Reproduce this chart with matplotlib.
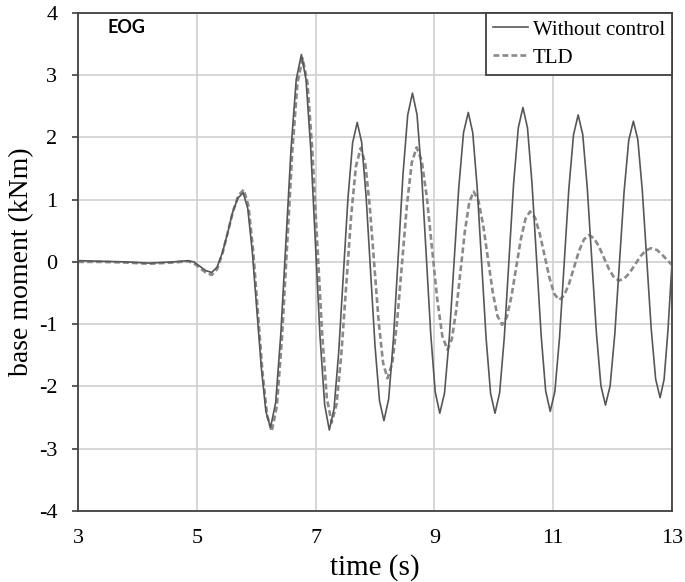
import matplotlib
matplotlib.use("Agg")
import matplotlib.pyplot as plt

plt.rcParams['font.family'] = ['Liberation Serif', 'DejaVu Serif']
plt.rcParams['axes.unicode_minus'] = False

# time (s) / base moment (kNm)
t_nc = [3.0, 3.4, 3.8, 4.2, 4.6, 4.85,
        4.95, 5.05, 5.15, 5.25,
        5.34, 5.43, 5.52, 5.60, 5.69, 5.78,
        5.857, 5.933, 6.01, 6.087, 6.163, 6.24,
        6.327, 6.413, 6.50, 6.587, 6.673, 6.76,
        6.838, 6.917, 6.995, 7.073, 7.152, 7.23,
        7.308, 7.387, 7.465, 7.543, 7.622, 7.70,
        7.775, 7.85, 7.925, 8.0, 8.075, 8.15,
        8.23, 8.31, 8.39, 8.47, 8.55, 8.63,
        8.707, 8.783, 8.86, 8.937, 9.013, 9.09,
        9.17, 9.25, 9.33, 9.41, 9.49, 9.57,
        9.645, 9.72, 9.795, 9.87, 9.945, 10.02,
        10.098, 10.177, 10.255, 10.333, 10.412, 10.49,
        10.567, 10.643, 10.72, 10.797, 10.873, 10.95,
        11.028, 11.107, 11.185, 11.263, 11.342, 11.42,
        11.497, 11.573, 11.65, 11.727, 11.803, 11.88,
        11.958, 12.037, 12.115, 12.193, 12.272, 12.35,
        12.425, 12.5, 12.575, 12.65, 12.725, 12.80,
        12.867, 12.933, 13.0]
m_nc = [0.02, 0.01, 0.0, -0.02, 0.0, 0.02,
        0.0, -0.07, -0.14, -0.17,
        -0.084, 0.15, 0.47, 0.79, 1.024, 1.11,
        0.857, 0.168, -0.775, -1.718, -2.407, -2.66,
        -2.259, -1.163, 0.335, 1.833, 2.929, 3.33,
        2.926, 1.823, 0.315, -1.193, -2.296, -2.70,
        -2.369, -1.465, -0.23, 1.005, 1.909, 2.24,
        1.919, 1.043, -0.155, -1.353, -2.229, -2.55,
        -2.198, -1.235, 0.08, 1.395, 2.358, 2.71,
        2.366, 1.425, 0.14, -1.145, -2.086, -2.43,
        -2.106, -1.223, -0.015, 1.193, 2.076, 2.40,
        2.076, 1.193, -0.015, -1.223, -2.106, -2.43,
        -2.101, -1.203, 0.025, 1.253, 2.151, 2.48,
        2.153, 1.26, 0.04, -1.18, -2.073, -2.40,
        -2.081, -1.21, -0.02, 1.17, 2.041, 2.36,
        2.048, 1.195, 0.03, -1.135, -1.988, -2.30,
        -1.994, -1.16, -0.02, 1.12, 1.954, 2.26,
        1.963, 1.15, 0.04, -1.07, -1.883, -2.18,
        -1.888, -1.09, -0.02]

t_tld = [3.0, 3.4, 3.8, 4.2, 4.6, 4.85,
         4.95, 5.05, 5.15, 5.25,
         5.34, 5.43, 5.52, 5.61, 5.70, 5.79,
         5.868, 5.947, 6.025, 6.103, 6.182, 6.26,
         6.347, 6.433, 6.52, 6.607, 6.693, 6.78,
         6.862, 6.943, 7.025, 7.107, 7.188, 7.27,
         7.352, 7.433, 7.515, 7.597, 7.678, 7.76,
         7.835, 7.91, 7.985, 8.06, 8.135, 8.21,
         8.292, 8.373, 8.455, 8.537, 8.618, 8.70,
         8.787, 8.873, 8.96, 9.047, 9.133, 9.22,
         9.293, 9.367, 9.44, 9.513, 9.587, 9.66,
         9.74, 9.82, 9.90, 9.98, 10.06, 10.14,
         10.218, 10.297, 10.375, 10.453, 10.532, 10.61,
         10.692, 10.773, 10.855, 10.937, 11.018, 11.10,
         11.183, 11.267, 11.35, 11.433, 11.517, 11.60,
         11.685, 11.77, 11.855, 11.94, 12.025, 12.11,
         12.20, 12.29, 12.38, 12.47, 12.56, 12.65,
         12.75, 12.85, 12.93, 13.0]
m_tld = [0.0, 0.0, -0.01, -0.03, -0.01, 0.01,
         -0.02, -0.10, -0.17, -0.21,
         -0.118, 0.133, 0.475, 0.818, 1.068, 1.16,
         0.90, 0.19, -0.78, -1.75, -2.46, -2.72,
         -2.319, -1.223, 0.275, 1.773, 2.869, 3.27,
         2.878, 1.808, 0.345, -1.118, -2.188, -2.58,
         -2.285, -1.478, -0.375, 0.728, 1.535, 1.83,
         1.582, 0.905, -0.02, -0.945, -1.622, -1.87,
         -1.621, -0.943, -0.015, 0.913, 1.591, 1.84,
         1.622, 1.028, 0.215, -0.598, -1.192, -1.41,
         -1.24, -0.775, -0.14, 0.495, 0.96, 1.13,
         0.987, 0.595, 0.06, -0.475, -0.867, -1.01,
         -0.888, -0.555, -0.1, 0.355, 0.688, 0.81,
         0.715, 0.455, 0.1, -0.255, -0.515, -0.61,
         -0.54, -0.35, -0.09, 0.17, 0.36, 0.43,
         0.381, 0.248, 0.065, -0.118, -0.251, -0.30,
         -0.265, -0.17, -0.04, 0.09, 0.185, 0.22,
         0.19, 0.10, 0.02, -0.05]

x_ticks = [3, 5, 7, 9, 11, 13]
y_ticks = [-4, -3, -2, -1, 0, 1, 2, 3, 4]

fig = plt.figure(figsize=(6.85, 5.82), dpi=100)
ax = fig.add_axes([0.114, 0.122, 0.867, 0.856])

ax.plot(t_nc, m_nc, color='#575757', linewidth=1.2, label='Without control', zorder=3)
ax.plot(t_tld, m_tld, color='#8a8a8a', linewidth=1.9, dashes=(2.2, 1.2),
        label='TLD', zorder=2)

ax.set_xlim(3, 13)
ax.set_ylim(-4, 4)
ax.set_xticks(x_ticks)
ax.set_yticks(y_ticks)
ax.grid(True, color='#d0d0d0', linewidth=1.2)
ax.set_axisbelow(True)
for s in ax.spines.values():
    s.set_color('#404040')
    s.set_linewidth(1.3)

ax.tick_params(axis='x', length=0, pad=13, labelsize=16)
ax.tick_params(axis='y', length=4, width=1.2, color='#404040', direction='out', pad=11, labelsize=16)

ax.set_xlabel('time (s)', fontsize=21, labelpad=4)
ax.set_ylabel('base moment (kNm)', fontsize=20, labelpad=3)

ax.text(0.05, 0.97, 'EOG', transform=ax.transAxes, ha='left', va='center',
        fontsize=13, fontweight='bold', family=['Lato', 'DejaVu Sans'])

leg = ax.legend(loc='upper right', borderaxespad=0, fontsize=15, fancybox=False,
                edgecolor='#404040', framealpha=1, handlelength=1.7,
                handletextpad=0.2, borderpad=0.35, labelspacing=0.4)
leg.get_frame().set_linewidth(1.3)

fig.savefig('out.png', dpi=100)
